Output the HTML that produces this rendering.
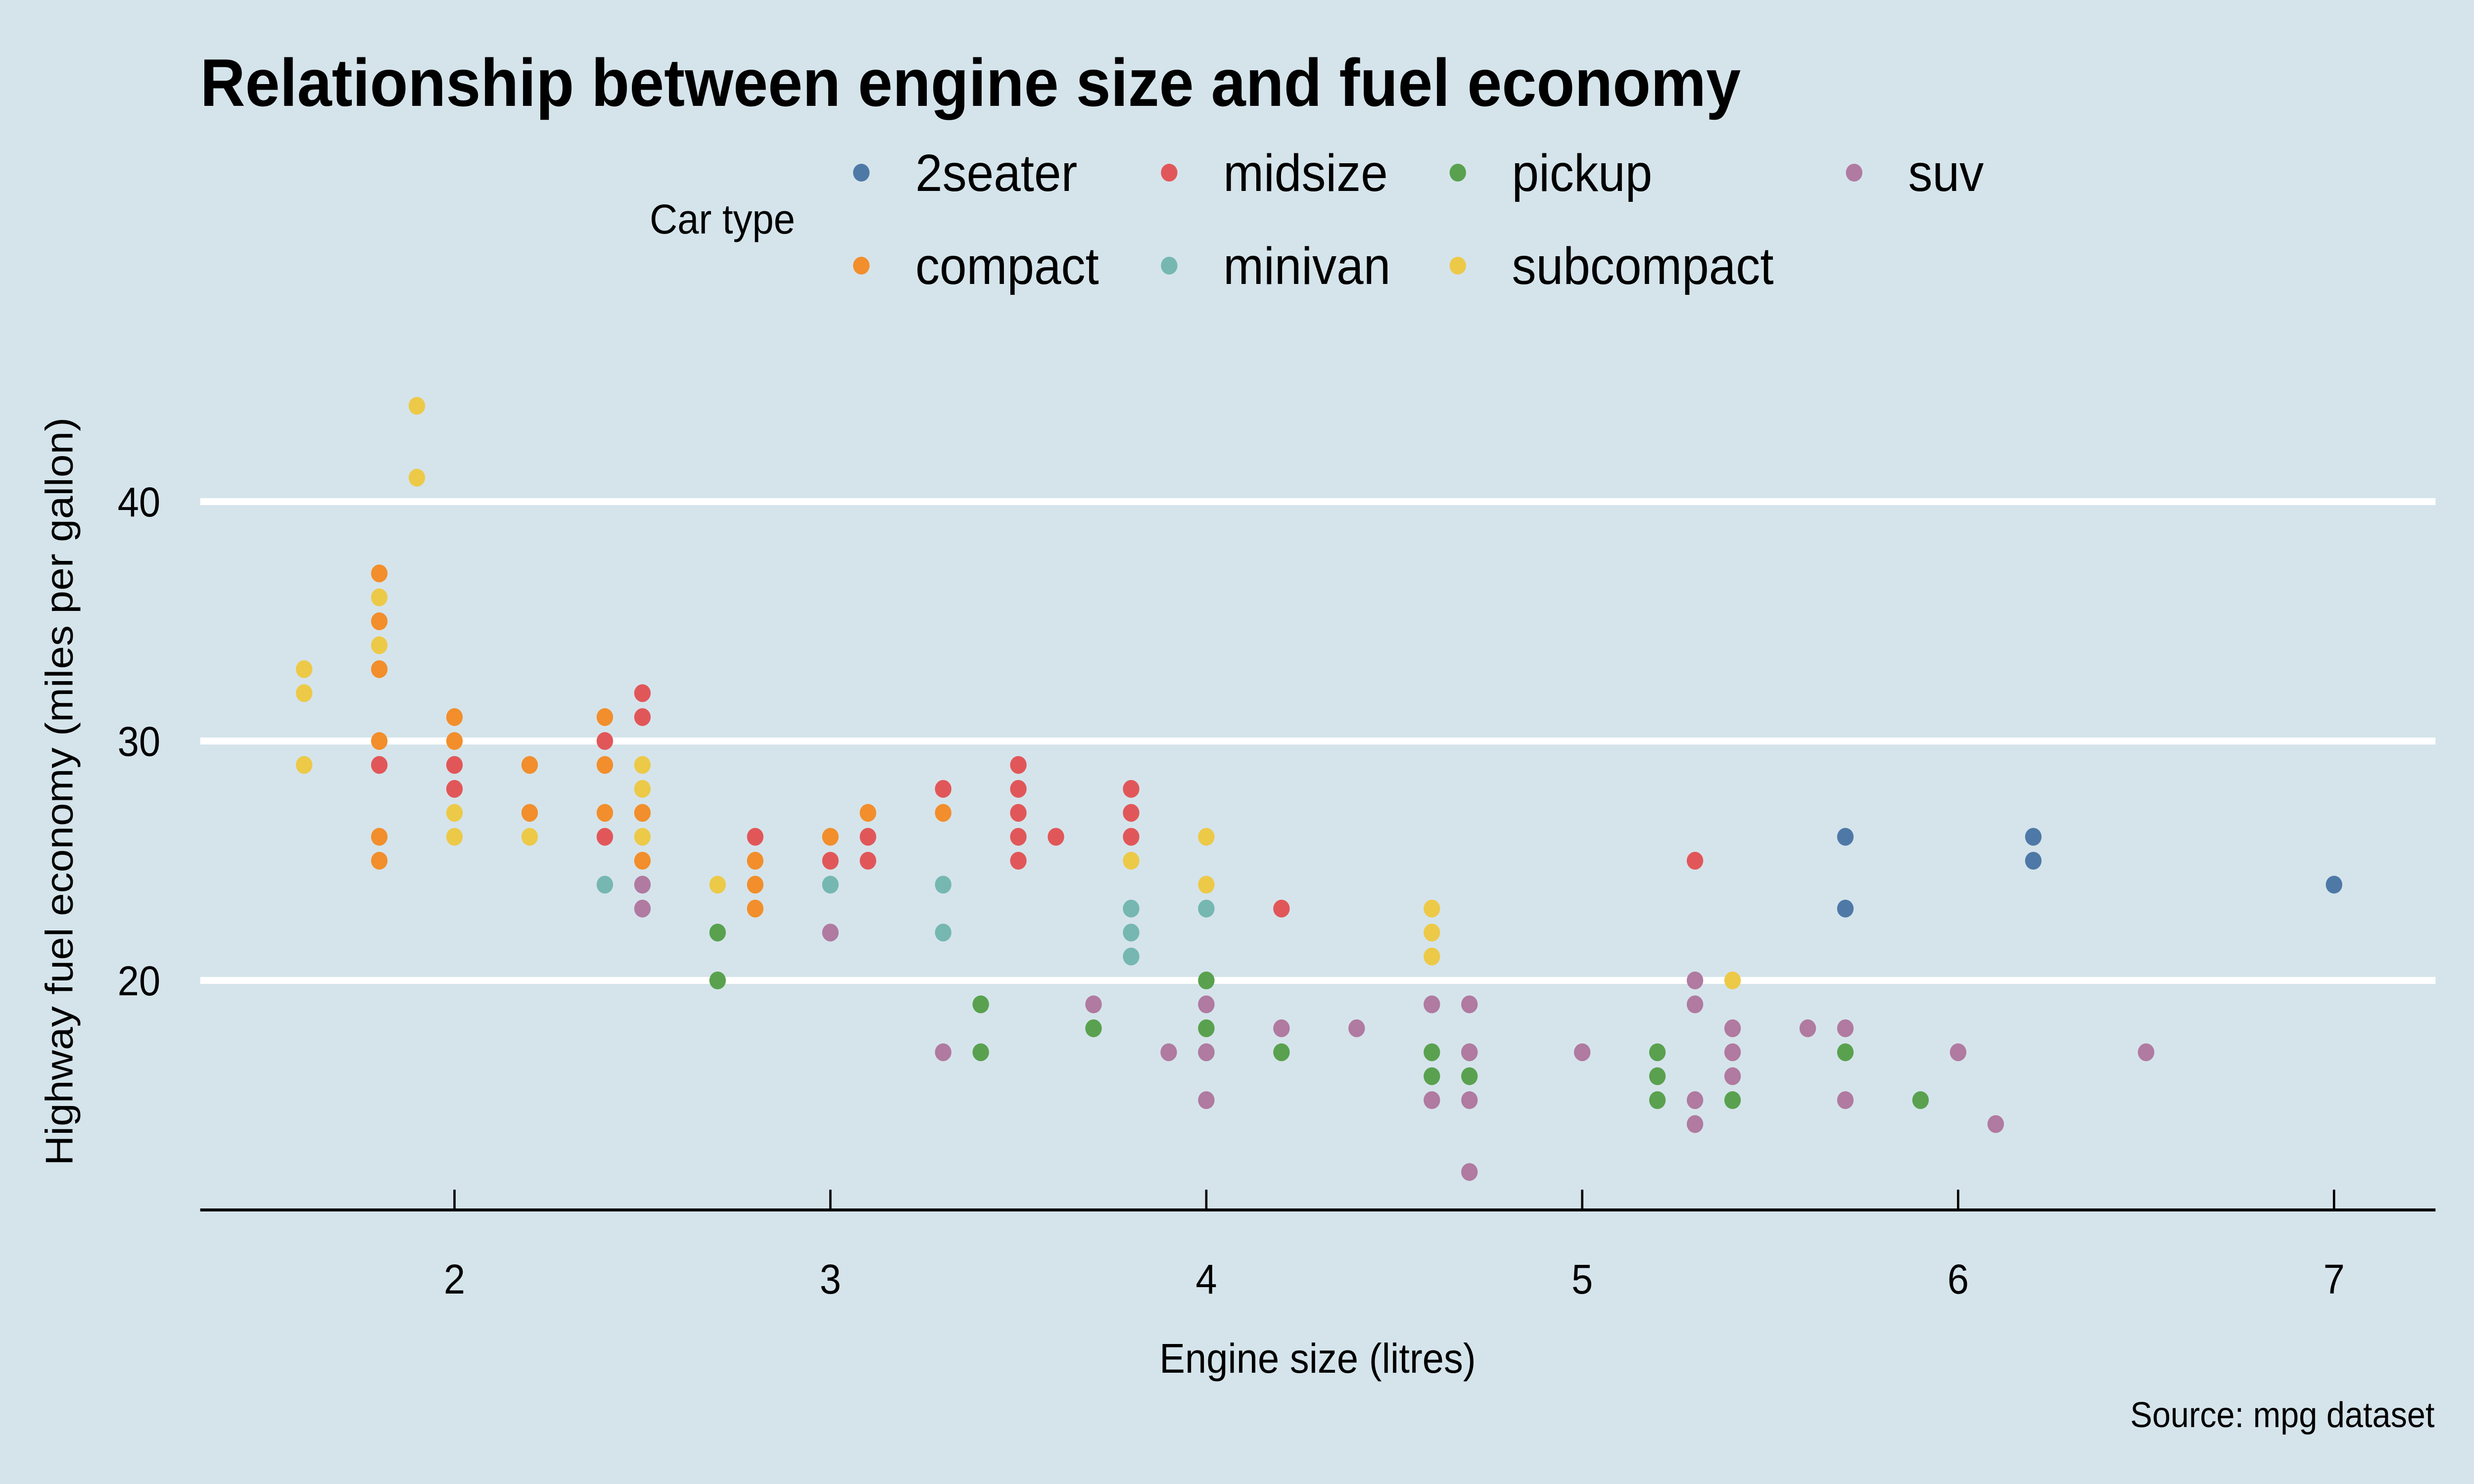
<!DOCTYPE html>
<html><head><meta charset="utf-8"><style>
html,body{margin:0;padding:0;background:#d5e4eb;width:100%;height:100%;overflow:hidden;}
svg{display:block;width:100vw;height:100vh;font-family:"Liberation Sans",Arial,sans-serif;}
</style></head><body>
<svg id="chart" viewBox="0 0 5400 3000" preserveAspectRatio="none" xmlns="http://www.w3.org/2000/svg">
<rect width="5400" height="3000" fill="#d5e4eb"/>
<text x="437" y="214" font-size="136" font-weight="bold" fill="#000">Relationship between engine size and fuel economy</text>
<text x="1418" y="472" font-size="84" fill="#000">Car type</text>
<g id="legend"></g>
<g id="grid"></g>
<g id="points"></g>
<g id="axes"></g>
<text x="2876" y="2775" font-size="84" text-anchor="middle" fill="#000">Engine size (litres)</text>
<text transform="translate(158,1600) rotate(-90)" font-size="84" text-anchor="middle" fill="#000">Highway fuel economy (miles per gallon)</text>
<text x="5314" y="2885" font-size="72" text-anchor="end" fill="#000">Source: mpg dataset</text>
</svg>
<script>
const classes = ["2seater","compact","midsize","minivan","pickup","subcompact","suv"];
const colors = ["#4e79a7","#f28e2b","#e15759","#76b7b2","#59a14f","#edc948","#b07aa1"];
const xTicks = [2,3,4,5,6,7];
const yTicks = [20,30,40];
const displ2seater = [5.7,5.7,6.2,6.2,7.0];
const hwy2seater = [26,23,26,25,24];
const displCompact = [1.8,1.8,1.8,1.8,1.8,1.8,2.0,2.0,2.2,2.2,2.4,2.4,2.4,2.5,2.5,2.8,2.8,2.8,3.0,3.1,3.3];
const hwyCompact = [37,35,33,30,26,25,31,30,29,27,31,29,27,27,25,25,24,23,26,27,27];
const displMidsize = [1.8,2.0,2.0,2.4,2.4,2.5,2.5,2.8,3.0,3.1,3.1,3.3,3.5,3.5,3.5,3.5,3.5,3.6,3.8,3.8,3.8,4.2,5.3];
const hwyMidsize = [29,29,28,30,26,32,31,26,25,26,25,28,29,28,27,26,25,26,28,27,26,23,25];
const displMinivan = [2.4,3.0,3.3,3.3,3.8,3.8,3.8,4.0];
const hwyMinivan = [24,24,24,22,23,22,21,23];
const displPickup = [2.7,2.7,3.4,3.4,3.7,4.0,4.0,4.0,4.2,4.6,4.6,4.7,4.7,5.2,5.2,5.2,5.4,5.7,5.9];
const hwyPickup = [22,20,19,17,18,20,18,17,17,17,16,17,16,17,16,15,15,17,15];
const displSubcompact = [1.6,1.6,1.6,1.8,1.8,1.9,1.9,2.0,2.0,2.2,2.5,2.5,2.5,2.7,3.8,4.0,4.0,4.6,4.6,4.6,5.4];
const hwySubcompact = [33,32,29,36,34,44,41,27,26,26,29,28,26,24,25,26,24,23,22,21,20];
const displSuv = [2.5,2.5,3.0,3.3,3.7,3.9,4.0,4.0,4.0,4.2,4.4,4.6,4.6,4.7,4.7,4.7,4.7,5.0,5.3,5.3,5.3,5.3,5.4,5.4,5.4,5.6,5.7,5.7,6.0,6.1,6.5];
const hwySuv = [24,23,22,17,19,17,19,17,15,18,18,19,15,19,17,15,12,17,20,19,15,14,18,17,16,18,18,15,17,14,17];

const displ = [displ2seater,displCompact,displMidsize,displMinivan,displPickup,displSubcompact,displSuv];
const hwy = [hwy2seater,hwyCompact,hwyMidsize,hwyMinivan,hwyPickup,hwySubcompact,hwySuv];

const NS = "http://www.w3.org/2000/svg";
const PL = 437, PR = 5316, AXY = 2446;
function xScale(v){ return 992 + (v - 2) * 820.5; }
function yScale(v){ return 1982 - (v - 20) * 48.4; }
function mk(tag, attrs, parent){ const e = document.createElementNS(NS, tag); for (const k in attrs) e.setAttribute(k, attrs[k]); parent.appendChild(e); return e; }

const grid = document.getElementById('grid');
yTicks.forEach(t => {
  const l = mk('line', {x1:PL, x2:PR, y1:yScale(t), y2:yScale(t), stroke:'#fff', 'stroke-width':14}, grid);
  
  
  const tx = mk('text', {x:350, y:yScale(t)+30, 'font-size':84, 'text-anchor':'end', fill:'#000'}, grid);
  tx.textContent = t;
  
  
});

const pts = document.getElementById('points');
classes.forEach((c, i) => {
  displ[i].forEach((d, j) => {
    const p = mk('circle', {cx:xScale(d), cy:yScale(hwy[i][j]), r:18, fill:colors[i]}, pts);
    
    
  });
});

const axes = document.getElementById('axes');
const ax = mk('line', {x1:PL, x2:PR, y1:AXY, y2:AXY, stroke:'#000', 'stroke-width':6}, axes);


xTicks.forEach(t => {
  const tk = mk('line', {x1:xScale(t), x2:xScale(t), y1:2405, y2:AXY, stroke:'#000', 'stroke-width':5}, axes);
  
  
  const tx = mk('text', {x:xScale(t), y:2615, 'font-size':84, 'text-anchor':'middle', fill:'#000'}, axes);
  tx.textContent = t;
  
  
});

const legend = document.getElementById('legend');
const legendOrder = [0,2,4,6,1,3,5];
const colX = [1880, 2552, 3182, 4047];
legendOrder.forEach((ci, k) => {
  const row = k < 4 ? 0 : 1, col = k < 4 ? k : k - 4;
  const y = row === 0 ? 349 : 537;
  const g = mk('g', {}, legend);
  
  
  mk('circle', {cx:colX[col], cy:y, r:18, fill:colors[ci]}, g);
  const t = mk('text', {x:colX[col]+118, y:y+37, 'font-size':106, fill:'#000'}, g);
  t.textContent = classes[ci];
});
</script>
</body></html>
